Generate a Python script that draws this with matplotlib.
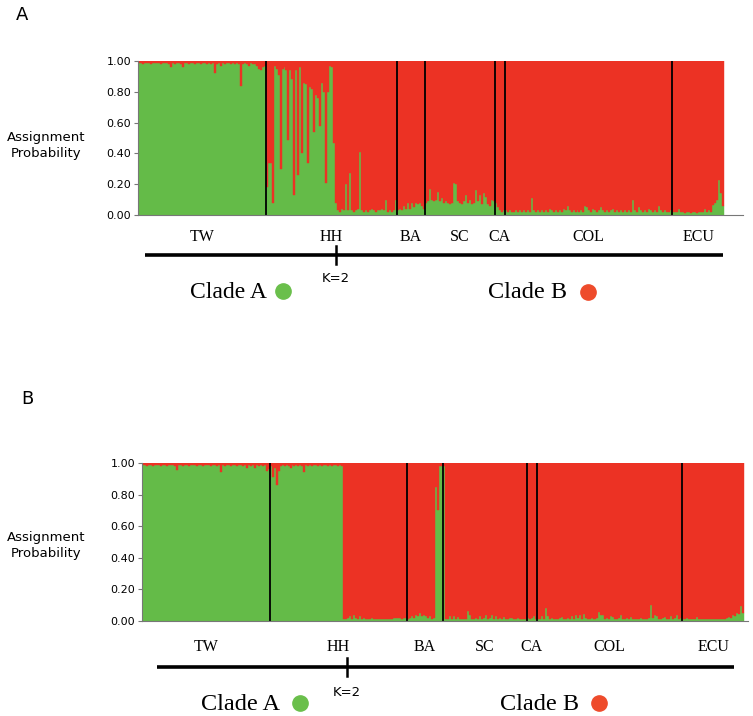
import matplotlib
matplotlib.use("Agg")
import matplotlib.pyplot as plt
from matplotlib.transforms import blended_transform_factory
import numpy as np

# population order along the x axis
pops = ["TW", "HH", "BA", "SC", "CA", "COL", "ECU"]

# panel A: Clade A (green) membership for each individual
a_tw = [0.99, 0.99, 0.98, 0.99, 0.99, 0.99, 0.98, 0.99, 0.99, 0.99,
        0.99, 0.98, 0.99, 0.99, 0.99, 0.98, 0.96, 0.99, 0.98, 0.99,
        0.99, 0.98, 0.96, 0.99, 0.99, 0.98, 0.99, 0.99, 0.98, 0.99,
        0.99, 0.98, 0.99, 0.99, 0.98, 0.99, 0.98, 0.99, 0.92, 0.98,
        0.99, 0.97, 0.99, 0.98, 0.99, 0.99, 0.98, 0.99, 0.98, 0.99,
        0.98, 0.84, 0.98, 0.99, 0.98, 0.97, 0.99, 0.98, 0.98, 0.97,
        0.95, 0.94, 0.96, 0.97]
a_hh = [0.18, 0.34, 0.34, 0.08, 0.97, 0.95, 0.91, 0.30, 0.95, 0.96,
        0.94, 0.49, 0.94, 0.88, 0.13, 0.94, 0.26, 0.96, 0.40, 0.86,
        0.85, 0.34, 0.83, 0.82, 0.54, 0.78, 0.76, 0.58, 0.86, 0.80,
        0.21, 0.80, 0.97, 0.96, 0.47, 0.08, 0.03, 0.02, 0.04, 0.03,
        0.20, 0.03, 0.27, 0.03, 0.02, 0.03, 0.04, 0.41, 0.03, 0.02,
        0.03, 0.02, 0.03, 0.04, 0.03, 0.02, 0.03, 0.03, 0.04, 0.03,
        0.10, 0.02, 0.03, 0.02, 0.03, 0.10]
a_ba = [0.03, 0.04, 0.03, 0.06, 0.04, 0.08, 0.04, 0.08, 0.05, 0.08,
        0.07, 0.08, 0.06, 0.04]
a_sc = [0.08, 0.09, 0.17, 0.10, 0.09, 0.10, 0.15, 0.09, 0.11, 0.08,
        0.09, 0.08, 0.07, 0.08, 0.21, 0.20, 0.09, 0.08, 0.07, 0.09,
        0.13, 0.08, 0.10, 0.07, 0.08, 0.16, 0.09, 0.13, 0.07, 0.14,
        0.12, 0.07, 0.06, 0.10, 0.09]
a_ca = [0.08, 0.05, 0.03, 0.02, 0.03]
a_col = [0.03, 0.02, 0.03, 0.02, 0.02, 0.03, 0.02, 0.03, 0.02, 0.03,
         0.02, 0.03, 0.02, 0.11, 0.03, 0.02, 0.03, 0.02, 0.03, 0.02,
         0.03, 0.02, 0.04, 0.03, 0.02, 0.03, 0.02, 0.03, 0.02, 0.04,
         0.03, 0.06, 0.03, 0.02, 0.03, 0.02, 0.03, 0.02, 0.03, 0.02,
         0.06, 0.05, 0.03, 0.02, 0.04, 0.03, 0.02, 0.03, 0.05, 0.03,
         0.02, 0.03, 0.02, 0.03, 0.04, 0.02, 0.03, 0.02, 0.03, 0.02,
         0.03, 0.02, 0.03, 0.02, 0.10, 0.03, 0.02, 0.05, 0.03, 0.02,
         0.03, 0.02, 0.04, 0.03, 0.02, 0.03, 0.02, 0.06, 0.03, 0.02,
         0.03, 0.02, 0.02, 0.03]
a_ecu = [0.02, 0.02, 0.02, 0.04, 0.02, 0.02, 0.01, 0.02, 0.02, 0.01,
         0.02, 0.02, 0.01, 0.02, 0.02, 0.02, 0.04, 0.02, 0.03, 0.02,
         0.065, 0.08, 0.10, 0.23, 0.14, 0.06]

# panel B
b_tw = [0.99, 0.99, 0.98, 0.99, 0.99, 0.98, 0.99, 0.99, 0.99, 0.98,
        0.99, 0.99, 0.98, 0.99, 0.99, 0.99, 0.98, 0.955, 0.99, 0.99,
        0.98, 0.99, 0.99, 0.98, 0.99, 0.99, 0.99, 0.98, 0.99, 0.99,
        0.98, 0.99, 0.99, 0.99, 0.98, 0.99, 0.99, 0.98, 0.99, 0.94,
        0.99, 0.98, 0.99, 0.99, 0.98, 0.99, 0.99, 0.98, 0.99, 0.99,
        0.98, 0.99, 0.97, 0.99, 0.98, 0.99, 0.97, 0.99, 0.98, 0.99,
        0.98, 0.99, 0.95, 0.96]
b_hh = [0.98, 0.91, 0.97, 0.86, 0.95, 0.98, 0.99, 0.98, 0.99, 0.98,
        0.97, 0.99, 0.98, 0.99, 0.98, 0.99, 0.98, 0.94, 0.99, 0.98,
        0.99, 0.98, 0.99, 0.99, 0.98, 0.99, 0.98, 0.99, 0.99, 0.98,
        0.99, 0.98, 0.99, 0.99, 0.98, 0.99, 0.98,
        0.01, 0.01, 0.02, 0.03, 0.01, 0.04, 0.02, 0.01, 0.03, 0.01,
        0.02, 0.01, 0.01, 0.01, 0.02, 0.01, 0.01, 0.01, 0.01, 0.01,
        0.01, 0.01, 0.01, 0.01, 0.01, 0.02, 0.02, 0.02, 0.02, 0.01,
        0.02, 0.02]
b_ba = [0.01, 0.02, 0.03, 0.02, 0.04, 0.03, 0.05, 0.03, 0.04, 0.03,
        0.02, 0.03, 0.01, 0.02, 0.85, 0.70, 0.98, 0.98]
b_sc = [0.98, 0.01, 0.01, 0.03, 0.01, 0.03, 0.01, 0.025, 0.01, 0.01,
        0.01, 0.01, 0.065, 0.04, 0.01, 0.01, 0.02, 0.01, 0.03, 0.01,
        0.02, 0.035, 0.01, 0.02, 0.04, 0.01, 0.03, 0.01, 0.02, 0.01,
        0.025, 0.01, 0.01, 0.02, 0.02, 0.01, 0.01, 0.02, 0.01, 0.01,
        0.01, 0.01]
b_ca = [0.02, 0.01, 0.02, 0.03, 0.01]
b_col = [0.01, 0.01, 0.03, 0.01, 0.08, 0.03, 0.01, 0.02, 0.01, 0.01,
         0.01, 0.02, 0.025, 0.01, 0.01, 0.02, 0.01, 0.03, 0.01, 0.04,
         0.02, 0.035, 0.01, 0.045, 0.02, 0.01, 0.01, 0.02, 0.01, 0.01,
         0.02, 0.055, 0.04, 0.035, 0.01, 0.02, 0.01, 0.03, 0.025, 0.01,
         0.01, 0.02, 0.035, 0.01, 0.01, 0.02, 0.01, 0.025, 0.01, 0.01,
         0.01, 0.01, 0.02, 0.01, 0.01, 0.01, 0.02, 0.10, 0.02, 0.04,
         0.03, 0.01, 0.01, 0.02, 0.025, 0.01, 0.01, 0.03, 0.01, 0.02,
         0.035, 0.01, 0.02]
b_ecu = [0.01, 0.01, 0.02, 0.01, 0.01, 0.01, 0.01, 0.025, 0.01, 0.01,
         0.01, 0.01, 0.01, 0.01, 0.01, 0.01, 0.01, 0.01, 0.01, 0.01,
         0.01, 0.01, 0.02, 0.025, 0.02, 0.04, 0.03, 0.05, 0.045, 0.095,
         0.05]

yticks = [0.0, 0.2, 0.4, 0.6, 0.8, 1.0]

green = "#64bb48"
red = "#ec3224"
W, H = 753, 716

fig = plt.figure(figsize=(W / 100, H / 100), dpi=100)


def panel(groups, left, right, data_right, top, bottom, label_y):
    # pixel box -> figure fractions
    ax = fig.add_axes([left / W, 1 - bottom / H, (right - left) / W, (bottom - top) / H])
    q = np.concatenate([np.array(g, dtype=float) for g in groups])
    n = len(q)
    x = np.arange(n)
    ax.bar(x, q, width=1, align="edge", color=green, edgecolor=green, linewidth=0.3)
    ax.bar(x, 1 - q, bottom=q, width=1, align="edge", color=red, edgecolor=red, linewidth=0.3)

    sizes = [len(g) for g in groups]
    edges = np.cumsum(sizes)
    starts = edges - np.array(sizes)
    ax.vlines(edges[:-1], 0, 1, color="black", linewidth=1.3)

    ax.set_xlim(0, n * (right - left) / (data_right - left))
    ax.set_ylim(0, 1)
    ax.set_yticks(yticks)
    ax.set_yticklabels([f"{t:.2f}" for t in yticks])
    ax.set_xticks([])
    for s in ["top", "right"]:
        ax.spines[s].set_visible(False)
    ax.spines["left"].set_color("#777777")
    ax.spines["bottom"].set_color("#777777")
    ax.spines["left"].set_linewidth(0.8)
    ax.spines["bottom"].set_linewidth(0.8)
    ax.tick_params(axis="y", length=3, width=0.8, color="#777777", labelsize=8, pad=2)

    trans = blended_transform_factory(ax.transData, ax.transAxes)
    for name, s0, s1 in zip(pops, starts, edges):
        ax.text((s0 + s1) / 2, label_y, name, transform=trans, ha="center", va="center",
                family="Liberation Serif", fontsize=11.5)
    return ax


panel([a_tw, a_hh, a_ba, a_sc, a_ca, a_col, a_ecu], 138, 743, 724, 61, 215, -0.143)
panel([b_tw, b_hh, b_ba, b_sc, b_ca, b_col, b_ecu], 142, 748, 744, 463, 621, -0.165)

# overlay in pixel coordinates for the annotations
ov = fig.add_axes([0, 0, 1, 1])
ov.set_xlim(0, W)
ov.set_ylim(H, 0)
ov.axis("off")

ov.text(22, 15, "A", fontsize=13, ha="center", va="center")
ov.text(27, 399, "B", fontsize=13, ha="center", va="center")
ov.text(46, 145, "Assignment\nProbability", fontsize=9.5, ha="center", va="center", linespacing=1.3)
ov.text(46, 546, "Assignment\nProbability", fontsize=9.5, ha="center", va="center", linespacing=1.3)

# clade bars
ov.plot([145, 723], [255, 255], color="black", linewidth=2.6, solid_capstyle="butt")
ov.plot([336, 336], [246, 264], color="black", linewidth=1.8)
ov.text(336, 278, "K=2", fontsize=9.5, ha="center", va="center")
ov.text(190, 292, "Clade A", family="Liberation Serif", fontsize=17, ha="left", va="center")
ov.text(488, 292, "Clade B", family="Liberation Serif", fontsize=17.5, ha="left", va="center")
ov.plot(283, 291, "o", markersize=11, color="#6abf4b")
ov.plot(588, 292, "o", markersize=11, color="#ee4b2b")

ov.plot([157, 734], [667, 667], color="black", linewidth=2.6, solid_capstyle="butt")
ov.plot([347, 347], [658, 676], color="black", linewidth=1.8)
ov.text(347, 692, "K=2", fontsize=9.5, ha="center", va="center")
ov.text(201, 704, "Clade A", family="Liberation Serif", fontsize=17.5, ha="left", va="center")
ov.text(500, 704, "Clade B", family="Liberation Serif", fontsize=17.5, ha="left", va="center")
ov.plot(300, 703, "o", markersize=11, color="#6abf4b")
ov.plot(599, 703, "o", markersize=11, color="#ee4b2b")

fig.savefig("out.png", dpi=100)
